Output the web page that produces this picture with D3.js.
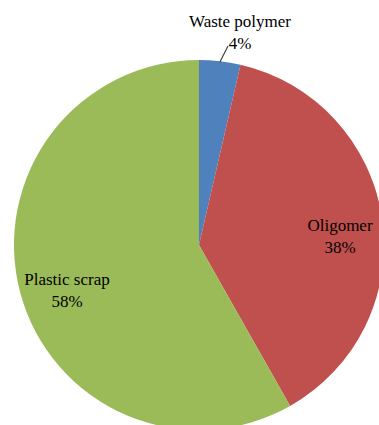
<!DOCTYPE html>
<html>
<head>
<meta charset="utf-8">
<script src="https://cdn.jsdelivr.net/npm/d3@7"></script>
<style>
  body { margin: 0; background: #fff; }
</style>
</head>
<body>
<div id="pie"></div>
<script>
// data
const categories = ["Waste polymer", "Oligomer", "Plastic scrap"];
const values = [3.6, 38.2, 58.2];
const colors = ["#4F81BD", "#C0504D", "#9BBB59"];

// where each label sits (centre of the two-line block, first baseline)
const labelPos = [[240, 27], [340, 231], [67, 285]];

const W = 379, H = 425;
const cx = 199, cy = 245, r = 185;

const svg = d3.select("#pie")
    .append("svg")
    .attr("width", W)
    .attr("height", H)
    .style("font-family", "'Liberation Serif', 'DejaVu Serif', serif");

const data = categories.map((c, i) => ({name: c, value: values[i]}));
const total = d3.sum(values);

const pie = d3.pie()
    .sort(null)
    .value(d => d.value);

const arc = d3.arc()
    .innerRadius(0)
    .outerRadius(r);

const g = svg.append("g")
    .attr("transform", `translate(${cx},${cy})`);

const arcs = pie(data);

g.selectAll("path")
    .data(arcs)
    .join("path")
    .attr("d", arc)
    .attr("fill", (d, i) => colors[i]);

// leader line for the small slice
const a0 = (arcs[0].startAngle + arcs[0].endAngle) / 2;
const p1 = [Math.sin(a0) * (r - 1), -Math.cos(a0) * (r - 1)];
svg.append("line")
    .attr("x1", cx + p1[0])
    .attr("y1", cy + p1[1])
    .attr("x2", 228)
    .attr("y2", 46)
    .attr("stroke", "#404040")
    .attr("stroke-width", 1.2);

// labels
const labels = svg.selectAll(".lbl")
    .data(data)
    .join("text")
    .attr("class", "lbl")
    .attr("text-anchor", "middle")
    .style("font-size", "17px")
    .attr("fill", "#000");

labels.append("tspan")
    .attr("x", (d, i) => labelPos[i][0])
    .attr("y", (d, i) => labelPos[i][1])
    .text(d => d.name);

labels.append("tspan")
    .attr("x", (d, i) => labelPos[i][0])
    .attr("dy", 22)
    .text(d => Math.round(d.value / total * 100) + "%");
</script>
</body>
</html>
